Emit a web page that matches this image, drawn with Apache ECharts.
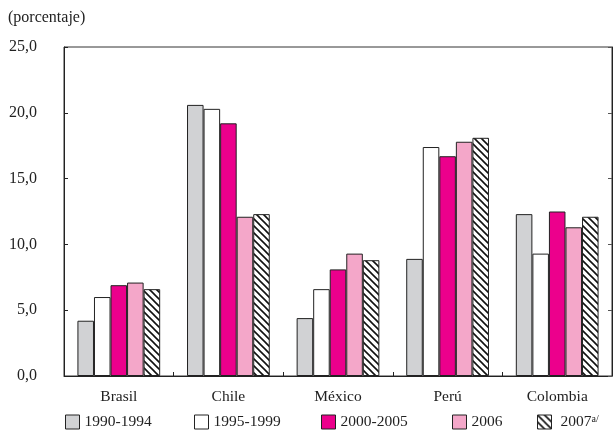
<!DOCTYPE html>
<html>
<head>
<meta charset="utf-8">
<script src="https://cdn.jsdelivr.net/npm/echarts@6/dist/echarts.min.js"></script>
<style>
  html, body { margin: 0; padding: 0; background: #fff; }
  #chart { width: 613px; height: 434px; }
</style>
</head>
<body>
<div id="chart"></div>
<script>
// datos
const paises = ['Brasil', 'Chile', 'México', 'Perú', 'Colombia']
const periodos = ['1990-1994', '1995-1999', '2000-2005', '2006', '2007']
const v1990_1994 = [4.2, 20.6, 4.4, 8.9, 12.3]
const v1995_1999 = [6.0, 20.3, 6.6, 17.4, 9.3]
const v2000_2005 = [6.9, 19.2, 8.1, 16.7, 12.5]
const v2006 = [7.1, 12.1, 9.3, 17.8, 11.3]
const v2007 = [6.6, 12.3, 8.8, 18.1, 12.1]
const yTicks = [0, 5, 10, 15, 20, 25]

const fuente = 'Liberation Serif'

// patrón de rayas diagonales para 2007
const crearRayado = () => {
  const c = document.createElement('canvas')
  c.width = 7
  c.height = 7
  const ctx = c.getContext('2d')
  ctx.fillStyle = '#fff'
  ctx.fillRect(0, 0, 7, 7)
  ctx.strokeStyle = '#111'
  ctx.lineWidth = 1.6
  ctx.beginPath()
  ctx.moveTo(-1, -1); ctx.lineTo(8, 8)
  ctx.moveTo(-8, -1); ctx.lineTo(1, 8)
  ctx.moveTo(6, -1); ctx.lineTo(15, 8)
  ctx.stroke()
  return c
}

const colores = ['#d1d2d4', '#ffffff', '#ec008c', '#f4a7c9', { image: crearRayado(), repeat: 'repeat' }]
const valores = [v1990_1994, v1995_1999, v2000_2005, v2006, v2007]

const chart = echarts.init(document.getElementById('chart'))

const series = periodos.map((p, i) => ({
  name: p,
  type: 'bar',
  data: valores[i],
  barGap: '0%',
  barCategoryGap: '24.5%',
  itemStyle: { color: colores[i], borderColor: '#222', borderWidth: 1 }
}))

// una leyenda por elemento para respetar las posiciones
const leyendaIzq = [65, 194, 321, 452, 537]
const leyendaPad = [0, 0, 0, 0, 4]
const legend = periodos.map((p, i) => ({
  data: [p],
  left: leyendaIzq[i],
  top: 414,
  padding: 0,
  itemWidth: 14,
  itemHeight: 14,
  icon: 'rect',
  itemStyle: { borderColor: '#222', borderWidth: 1 },
  textStyle: {
    fontFamily: fuente,
    fontSize: 15.5,
    color: '#222',
    padding: [0, 0, 0, leyendaPad[i]],
    rich: { sup: { fontFamily: fuente, fontSize: 10, color: '#222', verticalAlign: 'top', padding: [0, 0, 6, 0] } }
  },
  formatter: (n) => (n === '2007' ? '2007{sup|a/}' : n),
  selectedMode: false
}))

const option = {
  animation: false,
  title: {
    text: '(porcentaje)',
    left: 8,
    top: 10,
    padding: 0,
    textStyle: { fontFamily: fuente, fontSize: 16, fontWeight: 'normal', color: '#222' }
  },
  grid: {
    left: 64,
    right: 1,
    top: 47,
    bottom: 58,
    show: true,
    borderColor: '#333',
    borderWidth: 1
  },
  legend,
  xAxis: {
    type: 'category',
    data: paises,
    axisLine: { lineStyle: { color: '#222' } },
    axisTick: { show: true, inside: true, length: 4, lineStyle: { color: '#222' } },
    axisLabel: { fontFamily: fuente, fontSize: 15.5, color: '#222', margin: 13 }
  },
  yAxis: [
    {
      type: 'value',
      min: yTicks[0],
      max: yTicks[yTicks.length - 1],
      interval: 5,
      splitLine: { show: false },
      axisLine: { show: true, lineStyle: { color: '#222' } },
      axisTick: { show: true, inside: true, length: 4, lineStyle: { color: '#222' } },
      axisLabel: {
        fontFamily: fuente,
        fontSize: 16,
        color: '#222',
        margin: 27,
        formatter: (v) => v.toFixed(1).replace('.', ',')
      }
    },
    {
      type: 'value',
      position: 'right',
      min: yTicks[0],
      max: yTicks[yTicks.length - 1],
      interval: 5,
      splitLine: { show: false },
      axisLine: { show: true, lineStyle: { color: '#222' } },
      axisTick: { show: true, inside: true, length: 4, lineStyle: { color: '#555' } },
      axisLabel: { show: false }
    }
  ],
  series
}

chart.setOption(option)
</script>
</body>
</html>
